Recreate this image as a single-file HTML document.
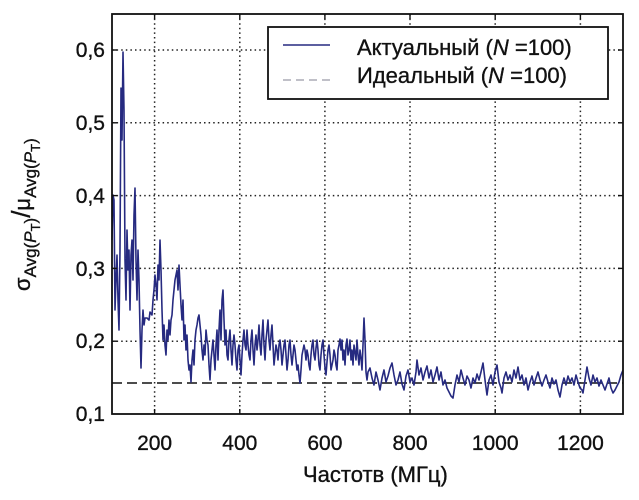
<!DOCTYPE html>
<html><head><meta charset="utf-8"><style>
html,body{margin:0;padding:0;background:#fff;}
svg{display:block;}
text{font-family:"Liberation Sans",Arial,sans-serif;fill:#111;stroke:#111;stroke-width:0.35;}
</style></head><body>
<svg width="639" height="500" viewBox="0 0 639 500" xmlns="http://www.w3.org/2000/svg">
<rect x="0" y="0" width="639" height="500" fill="#fff"/>
<!-- grid -->
<g stroke="#222" stroke-width="1.5" stroke-dasharray="1.5 3.1" fill="none">
<line x1="154.6" y1="14" x2="154.6" y2="414"/>
<line x1="239.8" y1="14" x2="239.8" y2="414"/>
<line x1="324.9" y1="14" x2="324.9" y2="414"/>
<line x1="410" y1="14" x2="410" y2="414"/>
<line x1="495.2" y1="14" x2="495.2" y2="414"/>
<line x1="580.4" y1="14" x2="580.4" y2="414"/>
<line x1="112" y1="50" x2="623" y2="50"/>
<line x1="112" y1="122.8" x2="623" y2="122.8"/>
<line x1="112" y1="195.6" x2="623" y2="195.6"/>
<line x1="112" y1="268.4" x2="623" y2="268.4"/>
<line x1="112" y1="341.2" x2="623" y2="341.2"/>
</g>
<!-- ideal dashed -->
<line x1="112" y1="383" x2="623" y2="383" stroke="#333" stroke-width="1.7" stroke-dasharray="10 5"/>
<!-- actual series -->
<polyline fill="none" stroke="#262a80" stroke-width="1.6" stroke-linejoin="round" points="
112,240 113,195 114,200 115,310 116,280 117,255 118,300 119,330 120,250 121,88 122,140 123,52 124,110 125,260 126,300 127,230 128,270 129,250 130,310 131,255 132,240 133,280 134,215 135,188 136,260 137,300 138,250 139,280 140,330 141,368 142,330 143,310 144,325 145,318 147,318 149,320 150,312 152,315 153,300 154,290 155,275 156,285 157,300 158,265 159,280 160,240 161,270 162,310 163,340 164,325 165,345 166,355 167,330 168,340 169,320 170,335 171,320 172,315 173,300 174,290 175,280 176,275 177,270 178,290 179,265 180,285 181,305 182,320 183,300 184,340 185,325 186,350 187,335 188,360 189,370 190,365 191,382 192,360 193,350 194,365 195,340 196,330 197,325 198,318 199,315 200,325 201,335 202,350 203,360 204,345 205,355 206,330 207,340 208,345 209,365 210,380 211,360 212,350 213,340 214,355 215,370 216,345 217,330 218,360 219,330 220,310 221,340 222,300 223,290 224,320 225,345 226,330 227,355 228,360 229,340 230,330 231,350 232,365 233,345 234,335 235,345 236,360 237,370 238,350 239,345 240,360 241,375 242,355 243,340 244,330 245,345 246,350 247,330 248,345 249,355 250,360 251,340 252,330 253,350 254,365 255,345 256,335 257,350 258,340 259,325 260,345 261,355 262,335 263,320 264,345 265,360 266,340 267,330 268,320 269,340 270,350 271,335 272,325 273,345 274,365 275,355 276,345 277,350 278,360 279,345 280,340 281,350 282,365 283,355 284,345 285,340 286,355 287,370 288,360 289,345 290,340 291,355 292,365 293,355 294,345 295,350 296,360 297,370 298,365 299,375 300,383 301,370 302,355 303,350 304,345 305,350 306,360 307,350 308,355 309,365 310,370 311,355 312,345 313,340 314,355 315,360 316,348 317,340 318,350 319,365 320,370 321,355 322,345 323,340 324,355 325,368 326,375 327,362 328,350 329,345 330,355 331,370 332,365 333,360 334,350 335,355 336,365 337,370 338,350 339,345 340,339 341,350 342,340 343,360 344,350 345,365 346,345 347,339 348,355 349,350 350,340 351,360 352,350 353,365 354,345 355,352 356,360 357,340 358,355 359,365 360,350 361,358 362,370 363,345 364,318 365,340 366,372 367,380 368,372 370,368 372,378 374,385 376,372 378,380 380,390 382,378 384,370 386,382 388,376 390,368 392,363 394,375 396,385 398,380 400,372 402,384 404,390 406,376 408,370 410,382 412,378 414,385 416,372 417,360 419,375 421,368 423,380 425,372 427,366 429,378 431,370 433,382 435,375 437,367 439,380 441,372 443,385 445,380 447,388 449,392 451,396 453,398 455,385 457,375 459,382 461,370 463,378 465,385 467,376 469,380 471,388 473,378 475,383 477,374 479,380 481,372 483,363 485,380 487,395 489,380 491,375 493,385 495,372 497,365 499,382 501,388 502,393 504,378 506,372 508,380 510,375 512,382 514,370 516,378 518,367 520,380 522,375 524,385 526,378 528,390 530,382 532,376 534,385 536,378 538,372 540,380 542,386 544,380 546,375 548,382 550,388 552,378 554,384 556,380 558,390 560,397 562,385 564,378 566,385 568,376 570,382 572,378 574,385 576,375 578,382 580,388 582,390 583,393 585,380 587,367 589,378 591,385 593,375 595,382 597,378 599,386 601,380 603,385 605,390 607,384 609,378 611,388 613,393 615,390 617,386 619,382 621,375 623,370"/>
<!-- ticks -->
<g stroke="#111" stroke-width="1.4">
<line x1="154.6" y1="414" x2="154.6" y2="409"/><line x1="154.6" y1="14" x2="154.6" y2="19"/>
<line x1="239.8" y1="414" x2="239.8" y2="409"/><line x1="239.8" y1="14" x2="239.8" y2="19"/>
<line x1="324.9" y1="414" x2="324.9" y2="409"/><line x1="324.9" y1="14" x2="324.9" y2="19"/>
<line x1="410" y1="414" x2="410" y2="409"/><line x1="410" y1="14" x2="410" y2="19"/>
<line x1="495.2" y1="414" x2="495.2" y2="409"/><line x1="495.2" y1="14" x2="495.2" y2="19"/>
<line x1="580.4" y1="414" x2="580.4" y2="409"/><line x1="580.4" y1="14" x2="580.4" y2="19"/>
<line x1="112" y1="50" x2="117" y2="50"/><line x1="623" y1="50" x2="618" y2="50"/>
<line x1="112" y1="122.8" x2="117" y2="122.8"/><line x1="623" y1="122.8" x2="618" y2="122.8"/>
<line x1="112" y1="195.6" x2="117" y2="195.6"/><line x1="623" y1="195.6" x2="618" y2="195.6"/>
<line x1="112" y1="268.4" x2="117" y2="268.4"/><line x1="623" y1="268.4" x2="618" y2="268.4"/>
<line x1="112" y1="341.2" x2="117" y2="341.2"/><line x1="623" y1="341.2" x2="618" y2="341.2"/>
</g>
<!-- axes box -->
<rect x="112" y="14" width="511" height="400" fill="none" stroke="#111" stroke-width="1.8"/>
<!-- legend -->
<rect x="268" y="27" width="340" height="72" fill="#fff" stroke="#111" stroke-width="1.8"/>
<line x1="283" y1="45" x2="330" y2="45" stroke="#262a80" stroke-width="1.6"/>
<line x1="283" y1="80" x2="330" y2="80" stroke="#9a9aa8" stroke-width="1.3" stroke-dasharray="8 5"/>
<text x="357" y="55" font-size="22">Актуальный (<tspan font-style="italic">N</tspan> =100)</text>
<text x="357" y="83" font-size="22">Идеальный (<tspan font-style="italic">N</tspan> =100)</text>
<!-- y tick labels -->
<g font-size="21" text-anchor="end">
<text x="105" y="57">0,6</text>
<text x="105" y="130">0,5</text>
<text x="105" y="203">0,4</text>
<text x="105" y="276">0,3</text>
<text x="105" y="348">0,2</text>
<text x="105" y="421">0,1</text>
</g>
<!-- x tick labels -->
<g font-size="21" text-anchor="middle">
<text x="154.6" y="450">200</text>
<text x="239.8" y="450">400</text>
<text x="324.9" y="450">600</text>
<text x="410" y="450">800</text>
<text x="495.2" y="450">1000</text>
<text x="580.4" y="450">1200</text>
</g>
<text x="303" y="482" font-size="22">Частотв (МГц)</text>
<!-- y label -->
<text transform="translate(30,291) rotate(-90)" font-size="22">σ<tspan font-size="17" dy="6">Avg(</tspan><tspan font-size="17" font-style="italic">P</tspan><tspan font-size="13" dy="4">T</tspan><tspan font-size="17" dy="-4">)</tspan><tspan font-size="26" dy="-6">/</tspan>μ<tspan font-size="17" dy="6">Avg(</tspan><tspan font-size="17" font-style="italic">P</tspan><tspan font-size="13" dy="4">T</tspan><tspan font-size="17" dy="-4">)</tspan></text>
</svg>
</body></html>
